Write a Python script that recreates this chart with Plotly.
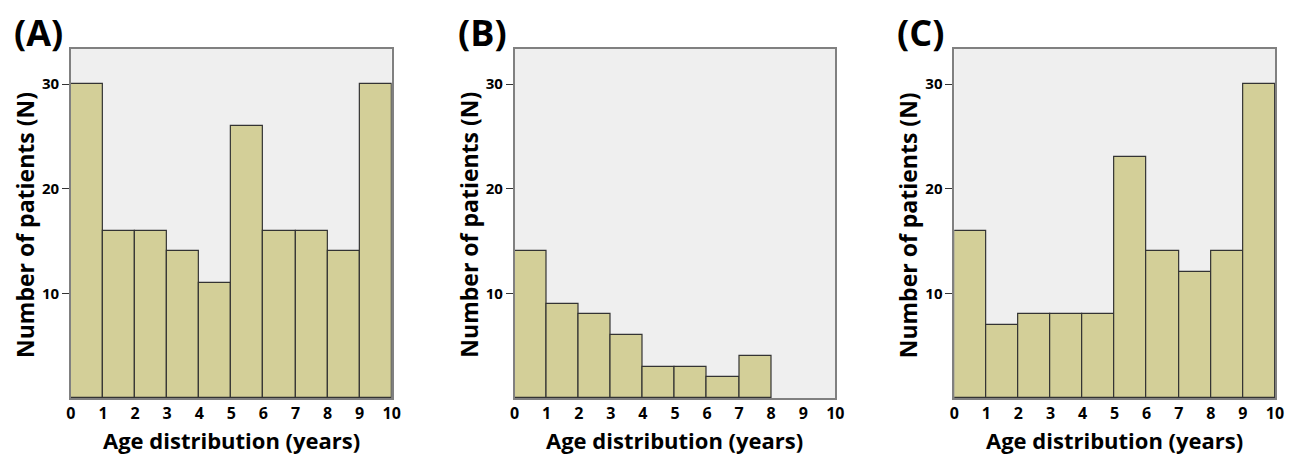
import plotly.graph_objects as go

age_bins = [0.5, 1.5, 2.5, 3.5, 4.5, 5.5, 6.5, 7.5, 8.5, 9.5]
tick_vals = [0, 1, 2, 3, 4, 5, 6, 7, 8, 9, 10]
counts_A = [30, 16, 16, 14, 11, 26, 16, 16, 14, 30]
counts_B = [14, 9, 8, 6, 3, 3, 2, 4, 0, 0]
counts_C = [16, 7, 8, 8, 8, 23, 14, 12, 14, 30]
panel_labels = ["(A)", "(B)", "(C)"]
x_title = "Age distribution (years)"
y_title = "Number of patients (N)"

W, H = 1298, 457
FONT = "Open Sans"
bar_color = "#D3CF98"
bg = "#EFEFEF"

# screen-to-figure correction observed horizontally
XA, XB = 5.0, 0.99

def px(xp):
    return (xp - XA) / XB / W

def py(yp):
    return 1 - yp / H

lefts = [71, 515, 955]
rights = [392, 836, 1276]
top_px, bot_px = 49, 398

fig = go.Figure()
series = [counts_A, counts_B, counts_C]
for i, vals in enumerate(series):
    xa = "x" if i == 0 else f"x{i+1}"
    ya = "y" if i == 0 else f"y{i+1}"
    fig.add_trace(go.Bar(
        x=age_bins, y=vals, width=1, xaxis=xa, yaxis=ya,
        marker=dict(color=bar_color,
                    line=dict(color="#333333",
                              width=[1.2 if v > 0 else 0 for v in vals])),
        showlegend=False, hoverinfo="x+y"))

    xkey = "xaxis" if i == 0 else f"xaxis{i+1}"
    ykey = "yaxis" if i == 0 else f"yaxis{i+1}"
    fig.layout[xkey] = dict(
        domain=[px(lefts[i]), px(rights[i])], anchor=ya, range=[0, 10],
        tickvals=tick_vals, ticks="", showgrid=False, zeroline=False,
        showline=True, linecolor="#808080", linewidth=1.5, mirror=True,
        tickfont=dict(family=FONT, size=16, color="black", weight="bold"),
        fixedrange=True)
    fig.layout[ykey] = dict(
        domain=[py(bot_px), py(top_px)], anchor=xa, range=[0, 33.35],
        tickvals=[10, 20, 30],
        ticks="outside", ticklen=7, tickcolor="#333333", tickwidth=1,
        showgrid=False, zeroline=False,
        showline=True, linecolor="#808080", linewidth=1.5, mirror=True,
        tickfont=dict(family=FONT, size=15, color="black", weight="bold"),
        fixedrange=True)

    cx = (lefts[i] + rights[i]) / 2
    fig.add_annotation(text=x_title, xref="paper", yref="paper",
                       x=px(cx), y=py(440), showarrow=False,
                       xanchor="center", yanchor="middle",
                       font=dict(family=FONT, size=22, color="black", weight="bold"))
    fig.add_annotation(text=y_title, xref="paper", yref="paper",
                       x=px(lefts[i] - 46), y=py(225), showarrow=False,
                       textangle=-90, xanchor="center", yanchor="middle",
                       font=dict(family=FONT, size=23, color="black", weight="bold"))
    fig.add_annotation(text=panel_labels[i], xref="paper", yref="paper",
                       x=px(lefts[i] - 59), y=py(32), showarrow=False,
                       xanchor="left", yanchor="middle",
                       font=dict(family=FONT, size=36, color="black", weight="bold"))

fig.update_layout(
    width=W, height=H, margin=dict(l=0, r=0, t=0, b=0),
    paper_bgcolor="white", plot_bgcolor=bg, bargap=0)

fig.write_html("out.html", config={"displayModeBar": False},
               post_script="document.body.style.margin='0';"
                           "document.body.style.overflow='hidden';")
